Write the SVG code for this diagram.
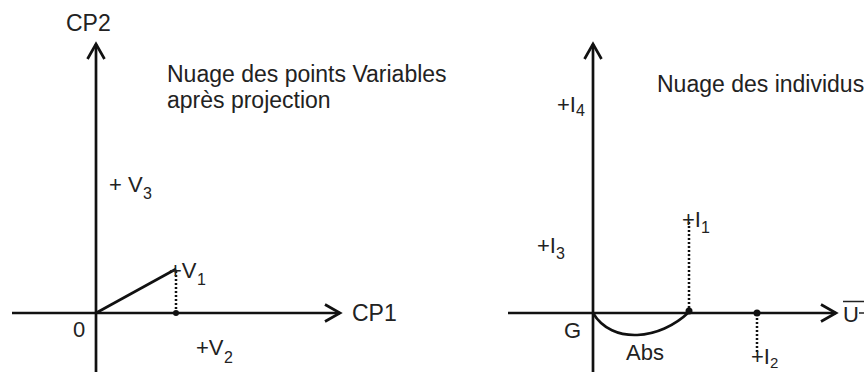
<svg xmlns="http://www.w3.org/2000/svg" width="864" height="372" viewBox="0 0 864 372">
<defs>
<marker id="arr" markerUnits="userSpaceOnUse" markerWidth="20" markerHeight="20" viewBox="-16 -10 18 20" refX="0" refY="0" orient="auto" overflow="visible">
<path d="M-15,-8.5 L0,0 L-15,8.5" fill="none" stroke="#111" stroke-width="2.7"/>
</marker>
</defs>
<style>
text{font-family:"Liberation Sans",Arial,sans-serif;fill:#222;font-size:22px}
.big{font-size:23px}
.sub{font-size:16px}
.axis{stroke:#111;stroke-width:2.7;fill:none}
.seg{stroke:#111;stroke-width:2.6;fill:none}
.dot{stroke:#111;stroke-width:2.5;stroke-dasharray:2 2;fill:none}
.pt{fill:#111}
</style>
<rect width="864" height="372" fill="#fff"/>
<g id="connectors">
<line class="axis" x1="96" y1="372" x2="96" y2="44" marker-end="url(#arr)"/>
<line class="axis" x1="12" y1="313" x2="340" y2="313" marker-end="url(#arr)"/>
<line class="seg" x1="96" y1="313" x2="176" y2="269"/>
<line class="dot" x1="176" y1="271" x2="176" y2="312"/>
<circle class="pt" cx="176" cy="313" r="3"/>
<line class="axis" x1="593" y1="372" x2="593" y2="44" marker-end="url(#arr)"/>
<line class="axis" x1="508" y1="313" x2="836" y2="313" marker-end="url(#arr)"/>
<path class="seg" d="M593,313 C612,345 660,340 689,312"/>
<line class="dot" x1="689" y1="222" x2="689" y2="310"/>
<circle class="pt" cx="689" cy="311" r="3.5"/>
<line class="dot" x1="757" y1="314" x2="757" y2="354"/>
<circle class="pt" cx="757" cy="313" r="3.5"/>
</g>
<g id="cp2"><text class="big" x="66" y="31">CP2</text></g>
<g id="cp1"><text class="big" x="352" y="321">CP1</text></g>
<g id="title-left"><text class="big" x="167" y="82">Nuage des points Variables</text><text class="big" x="167" y="108">après projection</text></g>
<g id="v3"><text x="109" y="192">+ V</text><text class="sub" x="143" y="199">3</text></g>
<g id="v1"><text x="169" y="278">+V</text><text class="sub" x="197" y="285">1</text></g>
<g id="v2"><text x="196" y="355">+V</text><text class="sub" x="224" y="363">2</text></g>
<g id="origin"><text x="73" y="337">0</text></g>
<g id="title-right"><text class="big" x="657" y="92">Nuage des individus</text></g>
<g id="i4"><text x="557" y="112">+I</text><text class="sub" x="576" y="116">4</text></g>
<g id="i3"><text x="537" y="253">+I</text><text class="sub" x="556" y="259">3</text></g>
<g id="i1"><text x="682" y="227">+I</text><text class="sub" x="701" y="233">1</text></g>
<g id="i2"><text x="751" y="364">+I</text><text class="sub" x="770" y="368" style="font-size:15px">2</text></g>
<g id="g"><text x="564" y="338">G</text></g>
<g id="abs"><text x="626" y="360">Abs</text></g>
<g id="u"><text x="843" y="322">U</text><line x1="843" y1="301.5" x2="864" y2="301.5" stroke="#222" stroke-width="1.5"/><line x1="859" y1="313" x2="864" y2="313" stroke="#222" stroke-width="1.5"/></g>
</svg>
